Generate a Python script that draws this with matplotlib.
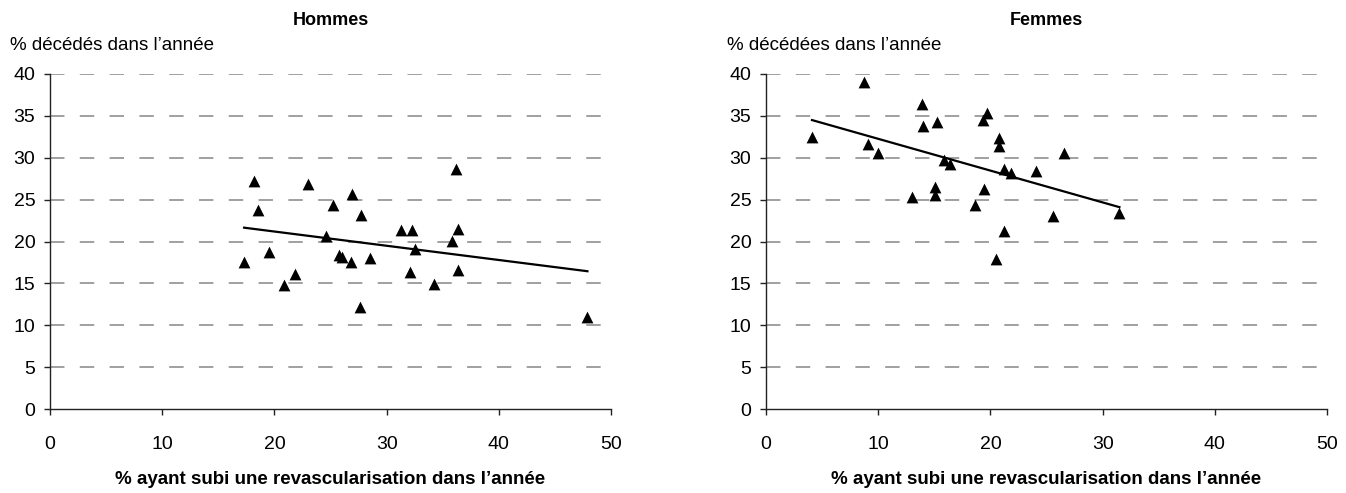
import matplotlib
matplotlib.use("Agg")
import matplotlib.pyplot as plt

plt.rcParams['font.family'] = ['Liberation Sans Narrow', 'Liberation Sans', 'DejaVu Sans']

# ---- Data ----
hommes_x = [17.3, 18.2, 18.5, 19.5, 20.9, 21.8, 23.0, 24.6, 25.2, 25.8, 26.0, 26.8, 26.95,
            27.7, 27.6, 28.5, 31.3, 32.3, 32.1, 32.5, 34.2, 35.8, 36.2, 36.4, 36.4, 47.9]
hommes_y = [17.6, 27.2, 23.8, 18.8, 14.8, 16.1, 26.9, 20.7, 24.4, 18.4, 18.1, 17.5, 25.7,
            23.2, 12.2, 18.0, 21.4, 21.4, 16.4, 19.1, 14.9, 20.1, 28.6, 21.5, 16.6, 11.0]
hommes_trend_x = [17.3, 47.9]
hommes_trend_y = [21.65, 16.45]

femmes_x = [4.1, 8.7, 9.1, 10.0, 13.0, 13.9, 14.0, 15.2, 15.1, 15.1, 15.9, 16.4, 18.6,
            19.3, 19.7, 19.4, 20.5, 20.8, 20.8, 21.2, 21.2, 21.8, 24.1, 25.6, 26.6, 31.5]
femmes_y = [32.5, 39.0, 31.6, 30.6, 25.3, 36.4, 33.8, 34.3, 26.5, 25.6, 29.7, 29.2, 24.3,
            34.5, 35.3, 26.3, 17.9, 32.4, 31.4, 28.7, 21.2, 28.2, 28.4, 23.0, 30.6, 23.4]
femmes_trend_x = [4.1, 31.5]
femmes_trend_y = [34.5, 24.1]

x_ticks = [0, 10, 20, 30, 40, 50]
y_ticks = [0, 5, 10, 15, 20, 25, 30, 35, 40]

titles = ["Hommes", "Femmes"]
ylabels = ["% décédés dans l\u2019année", "% décédées dans l\u2019année"]
xlabel = "% ayant subi une revascularisation dans l\u2019année"

# ---- Figure ----
W, H = 1346, 493
fig = plt.figure(figsize=(W / 100, H / 100), dpi=100)

ax_lefts = [50, 766]
ax_w = 561
ax_top, ax_bot = 74, 409

panels = [
    (hommes_x, hommes_y, hommes_trend_x, hommes_trend_y),
    (femmes_x, femmes_y, femmes_trend_x, femmes_trend_y),
]

for i, (xs, ys, tx, ty) in enumerate(panels):
    l = ax_lefts[i]
    ax = fig.add_axes([l / W, 1 - ax_bot / H, ax_w / W, (ax_bot - ax_top) / H])
    ax.set_xlim(0, 50)
    ax.set_ylim(0, 40)
    ax.set_xticks(x_ticks)
    ax.set_yticks(y_ticks)
    for s in ['top', 'right']:
        ax.spines[s].set_visible(False)
    for s in ['left', 'bottom']:
        ax.spines[s].set_linewidth(1.0)
        ax.spines[s].set_color('#222222')
    ax.tick_params(axis='both', direction='out', length=4.5, width=1.0,
                   color='#222222', labelsize=14)
    ax.tick_params(axis='y', pad=6)
    ax.tick_params(axis='x', pad=15)
    for yv in y_ticks[1:]:
        ax.axhline(yv, color='#999999', lw=1.3, dashes=(8, 8.5), zorder=0)
    ax.plot(tx, ty, color='black', lw=1.6, zorder=2)
    ax.scatter(xs, ys, marker='^', s=72, color='black', zorder=3, linewidths=0)
    ax.set_xlabel(xlabel, fontsize=13.5, fontweight='bold', labelpad=13)
    ax.text(0.5, 1.16, titles[i], transform=ax.transAxes, ha='center', va='center',
            fontsize=13, fontweight='bold')
    ax.text(-0.072 if i == 0 else -0.07, 1.085, ylabels[i], transform=ax.transAxes,
            ha='left', va='center', fontsize=13.5)

fig.savefig("out.png", dpi=100)
